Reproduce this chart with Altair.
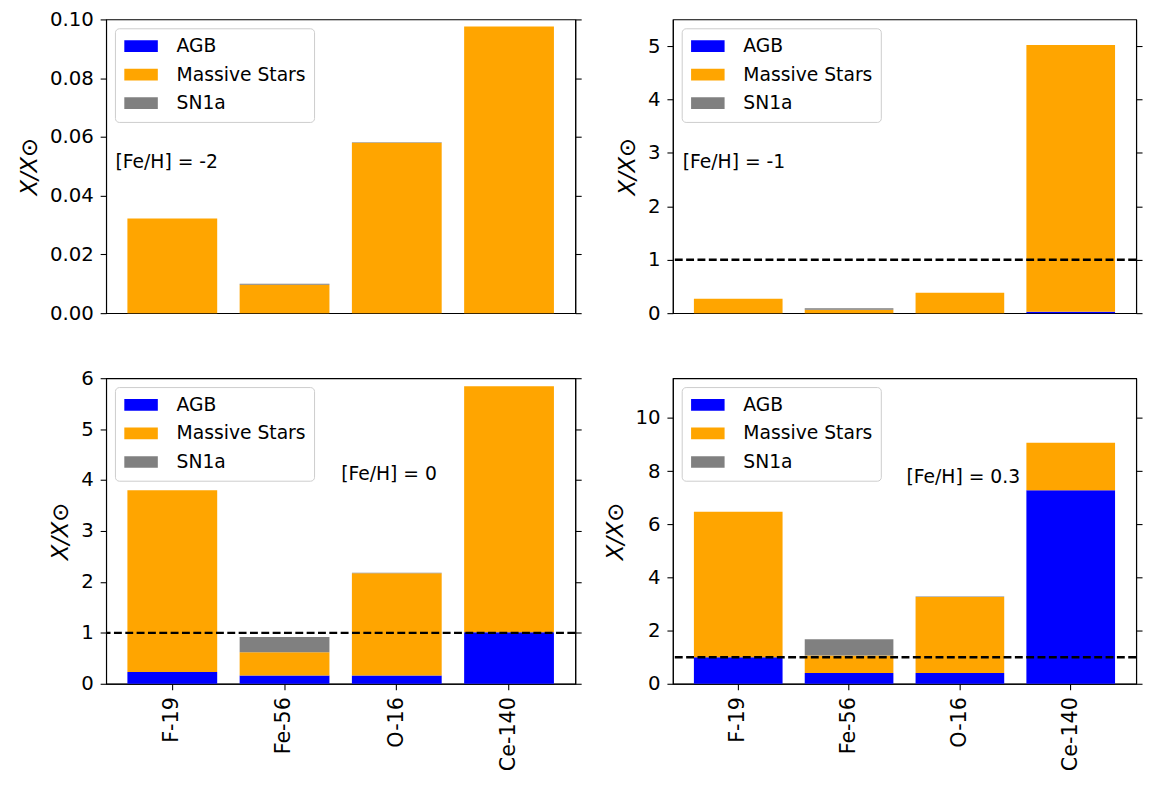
import altair as alt
import pandas as pd

FONT = "DejaVu Sans"

elements = ["F-19", "Fe-56", "O-16", "Ce-140"]
sources = ["AGB", "Massive Stars", "SN1a"]
colors = ["#0000ff", "#ffa500", "#808080"]

# [Fe/H] = -2
agb_m2 = [0.0, 0.0, 0.0, 0.0]
massive_m2 = [0.0322, 0.0097, 0.058, 0.0976]
sn1a_m2 = [0.0, 0.0003, 0.0002, 0.0]

# [Fe/H] = -1
agb_m1 = [0.0, 0.0, 0.0, 0.025]
massive_m1 = [0.27, 0.065, 0.383, 4.995]
sn1a_m1 = [0.0, 0.025, 0.0, 0.0]

# [Fe/H] = 0
agb_0 = [0.23, 0.16, 0.16, 1.01]
massive_0 = [3.57, 0.46, 2.01, 4.83]
sn1a_0 = [0.0, 0.30, 0.01, 0.0]

# [Fe/H] = 0.3
agb_03 = [1.0, 0.41, 0.41, 7.28]
massive_03 = [5.47, 0.65, 2.86, 1.79]
sn1a_03 = [0.0, 0.62, 0.01, 0.0]

solar_ref = [1.0]

ticks_m2 = [0.0, 0.02, 0.04, 0.06, 0.08, 0.10]
ticks_m1 = [0, 1, 2, 3, 4, 5]
ticks_0 = [0, 1, 2, 3, 4, 5, 6]
ticks_03 = [0, 2, 4, 6, 8, 10]


def make_panel(agb, massive, sn1a, ymax, yticks, yfmt, note, note_x, note_y,
               show_x, show_line, w, h):
    rows = []
    for i, el in enumerate(elements):
        for k, (src, vals) in enumerate(zip(sources, (agb, massive, sn1a))):
            rows.append({"element": el, "source": src, "value": vals[i], "order": k})
    df = pd.DataFrame(rows)

    def ysc():
        return alt.Scale(domain=[0, ymax], nice=False, zero=True)

    if show_x:
        x_axis = alt.Axis(title=None, labelAngle=-90, labelFontSize=21, labelFont=FONT,
                          tickSize=6, labelPadding=7, domain=True)
    else:
        x_axis = None

    legend = alt.Legend(
        title=None, orient="none", legendX=9, legendY=9,
        fillColor="white", strokeColor="#cccccc", cornerRadius=4,
        padding=8.5, labelFont=FONT, labelFontSize=19, labelColor="black",
        labelOffset=35, labelLimit=400, symbolType="M-1,-0.7H3V0.7H-1Z",
        symbolSize=289, symbolStrokeWidth=0, symbolOpacity=1, rowPadding=9,
    )

    bars = alt.Chart(df).mark_bar().encode(
        x=alt.X("element:N", sort=elements,
                scale=alt.Scale(paddingInner=0.2, paddingOuter=0.19), axis=x_axis),
        y=alt.Y("value:Q", stack="zero", scale=ysc(),
                axis=alt.Axis(values=yticks, format=yfmt, title="X/X⊙",
                              titleFontSize=23, titleFontStyle="italic",
                              titleFontWeight="normal", titleFont=FONT, titlePadding=8,
                              labelFontSize=20, labelFont=FONT, tickSize=6,
                              labelPadding=7, grid=False)),
        color=alt.Color("source:N", scale=alt.Scale(domain=sources, range=colors),
                        legend=legend),
        order=alt.Order("order:Q", sort="ascending"),
    )

    layers = [bars]
    if show_line:
        rule = alt.Chart(pd.DataFrame({"v": solar_ref})).mark_rule(
            color="black", strokeDash=[8, 3.5], strokeWidth=2.4
        ).encode(y=alt.Y("v:Q", scale=ysc(), axis=None))
        layers.append(rule)

    note_df = pd.DataFrame({"t": [note], "v": [note_y]})
    note_layer = alt.Chart(note_df).mark_text(
        align="left", baseline="middle", fontSize=19, font=FONT, color="black"
    ).encode(
        x=alt.value(note_x),
        y=alt.Y("v:Q", scale=ysc(),
                axis=alt.Axis(orient="right", labels=False, title=None, values=yticks,
                              tickSize=6, grid=False)),
        text="t:N",
    )
    layers.append(note_layer)
    return alt.layer(*layers).resolve_scale(y="independent").properties(width=w, height=h)


WL, WR = 476, 470
HT, HB = 298, 310

tl = make_panel(agb_m2, massive_m2, sn1a_m2, 0.1, ticks_m2, ".2f", "[Fe/H] = -2",
                9.5, 0.0516, False, False, WL, HT)
tr = make_panel(agb_m1, massive_m1, sn1a_m1, 5.5, ticks_m1, "d", "[Fe/H] = -1",
                10, 2.83, False, True, WR, HT)
bl = make_panel(agb_0, massive_0, sn1a_0, 6.0, ticks_0, "d", "[Fe/H] = 0",
                238.5, 4.11, True, True, WL, HB)
br = make_panel(agb_03, massive_03, sn1a_03, 11.5, ticks_03, "d", "[Fe/H] = 0.3",
                237, 7.76, True, True, WR, HB)

chart = alt.concat(
    tl, tr, bl, br, columns=2, spacing={"row": 44, "column": 21}
).resolve_scale(color="independent").properties(
    padding={"left": 9.5, "top": -5, "right": 0, "bottom": 0}
).configure_view(
    stroke="black", strokeWidth=1.1
).configure_axis(
    domainColor="black", tickColor="black", labelColor="black", titleColor="black",
    domainWidth=1.1, tickWidth=1.1, grid=False
)

chart.save("out.html", embed_options={"renderer": "svg", "actions": False})
